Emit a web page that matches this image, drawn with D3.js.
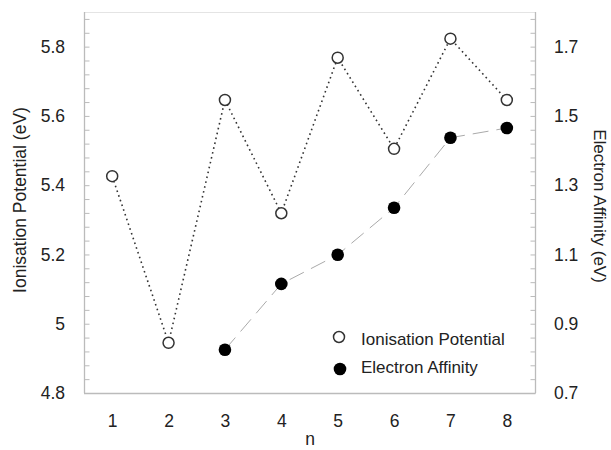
<!DOCTYPE html>
<html><head><meta charset="utf-8">
<script src="https://cdn.jsdelivr.net/npm/d3@7"></script>
<style>body{margin:0;background:#fff}text{font-family:"Liberation Sans",Arial,sans-serif;fill:#222}</style>
</head><body><svg id="c" width="611" height="450"></svg>
<script>
const nValues = [1,2,3,4,5,6,7,8];
const ionisationPotential = [5.426,4.945,5.646,5.319,5.768,5.505,5.823,5.646];
const eaN = [3,4,5,6,7,8];
const electronAffinity = [0.825,1.015,1.099,1.235,1.437,1.465];
const leftTicks = [4.8,5,5.2,5.4,5.6,5.8];
const rightTicks = [0.7,0.9,1.1,1.3,1.5,1.7];

const svg = d3.select("#c");
const L=84,R=535,T=12,B=393;
const FS=17.5;
const x = d3.scaleLinear().domain([0.5,8.5]).range([L,R]);
const yL = d3.scaleLinear().domain([4.8,5.9]).range([B,T]);
const yR = d3.scaleLinear().domain([0.7,1.8]).range([B,T]);
const axisCol="#bbb";

// frame
svg.append("line").attr("x1",L).attr("x2",R).attr("y1",T+0.5).attr("y2",T+0.5).attr("stroke","#e4e4e4");
svg.append("line").attr("x1",L).attr("x2",R+0.5).attr("y1",B+0.5).attr("y2",B+0.5).attr("stroke",axisCol).attr("stroke-width",1.3);

const minorL = d3.range(0,28).map(i=>4.8+i*0.04);
const gL = svg.append("g").attr("transform",`translate(${L+0.5},0)`)
  .call(d3.axisLeft(yL).tickValues(minorL).tickSize(-5).tickFormat(""));
gL.selectAll("line").attr("stroke",axisCol);
gL.select(".domain").attr("stroke",axisCol).attr("stroke-width",1.3).attr("d",`M0,${T}V${B}`);
const gL2 = svg.append("g").attr("transform",`translate(${L-16},0)`)
  .call(d3.axisLeft(yL).tickValues(leftTicks).tickSize(0).tickFormat(d3.format("")));
gL2.select(".domain").remove();
gL2.selectAll("text").attr("font-size",FS).attr("fill","#222").attr("font-family","Liberation Sans, Arial, sans-serif");

const minorR = d3.range(0,28).map(i=>0.7+i*0.04);
const gR = svg.append("g").attr("transform",`translate(${R+0.5},0)`)
  .call(d3.axisRight(yR).tickValues(minorR).tickSize(-5).tickFormat(""));
gR.selectAll("line").attr("stroke",axisCol);
gR.select(".domain").attr("stroke",axisCol).attr("stroke-width",1.3).attr("d",`M0,${T}V${B}`);
const gR2 = svg.append("g").attr("transform",`translate(${R+16},0)`)
  .call(d3.axisRight(yR).tickValues(rightTicks).tickSize(0).tickFormat(d3.format("")));
gR2.select(".domain").remove();
gR2.selectAll("text").attr("font-size",FS).attr("fill","#222").attr("font-family","Liberation Sans, Arial, sans-serif");

const gX = svg.append("g").attr("transform",`translate(0,${B+19})`)
  .call(d3.axisBottom(x).tickValues(nValues).tickSize(0).tickFormat(d3.format("d")));
gX.select(".domain").remove();
gX.selectAll("text").attr("font-size",FS).attr("fill","#222").attr("font-family","Liberation Sans, Arial, sans-serif");

// titles
svg.append("text").attr("transform","translate(26,200) rotate(-90)").attr("text-anchor","middle").attr("font-size",FS).text("Ionisation Potential (eV)");
svg.append("text").attr("transform","translate(594,206) rotate(90)").attr("text-anchor","middle").attr("font-size",17).text("Electron Affinity (eV)");
svg.append("text").attr("x",310).attr("y",445).attr("text-anchor","middle").attr("font-size",FS).text("n");

// lines
const ipLine = d3.line().x((d,i)=>x(nValues[i])).y(d=>yL(d));
svg.append("path").attr("d",ipLine(ionisationPotential)).attr("fill","none").attr("stroke","#333").attr("stroke-width",1.6).attr("stroke-dasharray","1.6,3.4");
const eaLine = d3.line().x((d,i)=>x(eaN[i])).y(d=>yR(d));
svg.append("path").attr("d",eaLine(electronAffinity)).attr("fill","none").attr("stroke","#aaa").attr("stroke-width",1).attr("stroke-dasharray","16,8");

// points
svg.selectAll(".ip").data(ionisationPotential).join("circle")
  .attr("cx",(d,i)=>x(nValues[i])).attr("cy",d=>yL(d)).attr("r",5.5)
  .attr("fill","#fff").attr("stroke","#333").attr("stroke-width",1.5);
svg.selectAll(".ea").data(electronAffinity).join("circle")
  .attr("cx",(d,i)=>x(eaN[i])).attr("cy",d=>yR(d)).attr("r",6.3).attr("fill","#000");

// legend
svg.append("circle").attr("cx",339).attr("cy",337).attr("r",5.5).attr("fill","#fff").attr("stroke","#333").attr("stroke-width",1.5);
svg.append("text").attr("x",361).attr("y",345).attr("font-size",17).text("Ionisation Potential");
svg.append("circle").attr("cx",340).attr("cy",369).attr("r",6.3).attr("fill","#000");
svg.append("text").attr("x",361).attr("y",373).attr("font-size",17).text("Electron Affinity");
</script></body></html>
